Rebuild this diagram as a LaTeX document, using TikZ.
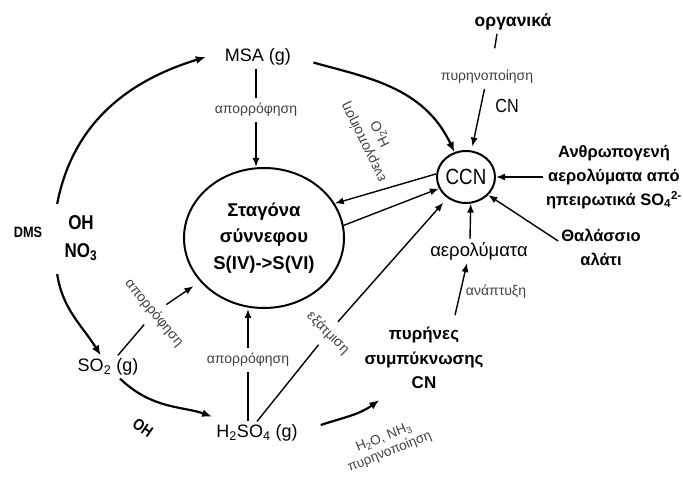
\documentclass[tikz,border=0pt]{standalone}
\usepackage{fontspec}
\setmainfont{Liberation Sans}
\newfontfamily\condfont{Liberation Sans}[FakeStretch=0.85]
\usetikzlibrary{arrows.meta,shapes.geometric}

\tikzset{
  lbl/.style={font=\fontsize{18}{22}\selectfont, inner sep=3pt},
  clbl/.style={font=\condfont\fontsize{19}{22}\selectfont, inner sep=3pt},
  blbl/.style={font=\bfseries\fontsize{16.5}{24}\selectfont, align=center, inner sep=3pt},
  small/.style={font=\fontsize{14}{16}\selectfont, text=black!75, inner sep=5pt},
  ln/.style={line width=1.4pt},
  arr/.style={line width=1.4pt, -{Latex[length=9pt,width=7pt]}},
  cyc/.style={line width=2.2pt, -{Latex[length=10pt,width=8pt]}},
  blob/.style={draw, ellipse, line width=2pt, inner sep=0pt},
}

\begin{document}
\begin{tikzpicture}[x=1pt,y=1pt]
  \useasboundingbox (0,0) rectangle (683,479);
  % gas phase
  \node[lbl] (msa) at (258,422) {MSA (g)};
  \node[lbl] (so2) at (108,112) {SO\textsubscript{2} (g)};
  \node[lbl] (h2so4) at (257,46) {H\textsubscript{2}SO\textsubscript{4} (g)};
  \node[font=\condfont\bfseries\fontsize{15}{17}\selectfont] (dms) at (28,247) {DMS};
  \node[font=\condfont\bfseries\fontsize{20}{28}\selectfont, align=center] (ohno) at (81,241) {OH\\NO\textsubscript{3}};
  \node[font=\condfont\bfseries\fontsize{16}{18}\selectfont, rotate=-35] (ohb) at (143,51) {OH};
  % droplet and CCN
  \node[blob, minimum width=160pt, minimum height=140pt,
        font=\bfseries\fontsize{18.5}{26.5}\selectfont, align=center] (drop) at (264,241)
        {Σταγόνα\\σύννεφου\\S(IV)->S(VI)};
  \node[blob, minimum width=58pt, minimum height=52pt,
        font=\condfont\fontsize{22}{24}\selectfont] (ccn) at (466,302) {CCN};
  % sources
  \node[font=\bfseries\fontsize{17.5}{20}\selectfont] (org) at (513,457) {οργανικά};
  \node[small] (nuc1) at (487,402) {πυρηνοποίηση};
  \node[clbl] (cn) at (507,373) {CN};
  \node[blbl] (anth) at (614,302) {Ανθρωπογενή\\αερολύματα από\\ηπειρωτικά SO\textsubscript{4}\textsuperscript{2-}};
  \node[blbl] (sea) at (601,232) {Θαλάσσιο\\αλάτι};
  \node[lbl, font=\fontsize{18.5}{22}\selectfont] (aer) at (479,228) {αερολύματα};
  \node[small, inner sep=2pt] (grow) at (496,187) {ανάπτυξη};
  \node[blbl, font=\bfseries\fontsize{17}{24.5}\selectfont] (pyr) at (424,121) {πυρήνες\\συμπύκνωσης\\CN};
  % process labels
  \node[small] (abs1) at (256,369) {απορρόφηση};
  \node[small, rotate=-50, inner sep=8pt] (abs2) at (154,166) {απορρόφηση};
  \node[small] (abs3) at (248,119) {απορρόφηση};
  \node[small, rotate=-45, inner sep=8pt] (evap) at (328,146) {εξάτμιση};
  \node[small, rotate=116, align=center, inner sep=2pt, font=\fontsize{14}{19}\selectfont] (act) at (372,341) {ενεργοποίηση\\H\textsubscript{2}O};
  \node[small, rotate=22, align=center, inner sep=2pt, font=\fontsize{13.5}{15.5}\selectfont] (nuc2) at (387,34) {H\textsubscript{2}O, NH\textsubscript{3}\\πυρηνοποίηση};

  % sulfur cycle
  \draw[cyc] ([shift={(-4pt,8pt)}]ohno.north west) to[out=79, in=197] ([xshift=-16pt]msa.west);
  \draw[cyc, shorten <=20pt] (msa.east) to[out=-16, in=115] (ccn);
  \draw[cyc] ([shift={(-4pt,-10pt)}]ohno.south west) to[out=279, in=122] (so2);
  \draw[cyc, shorten >=14pt] (so2) to[out=316, in=160] (h2so4);
  \draw[cyc] ([shift={(20pt,8pt)}]h2so4.east) to[out=18, in=216] ([shift={(18pt,-8pt)}]pyr.south west);
  % uptake
  \draw[ln] (msa.south -| abs1) -- (abs1.north);
  \draw[arr] (abs1.south) -- (abs1 |- drop.north);
  \draw[ln] (so2) -- (abs2);
  \draw[arr, shorten >=8pt] (abs2) -- (drop);
  \draw[ln] (h2so4.north -| abs3) -- (abs3.south);
  \draw[arr] (abs3.north) -- (abs3 |- drop.south);
  \draw[ln] (h2so4.north) -- (evap);
  \draw[arr, shorten >=6pt] (evap) -- (ccn);
  % droplet and CCN exchange
  \draw[arr] (ccn.174) -- (drop.26);
  \draw[arr] (drop.9) -- (ccn.203);
  % CCN sources
  \draw[ln, shorten >=17pt] ([xshift=-16pt]org.south) -- ([xshift=5pt]nuc1.north);
  \draw[arr, shorten >=4pt] (nuc1) -- (ccn);
  \draw[arr] (anth) -- (ccn);
  \draw[arr] ([yshift=6pt]sea.west) -- (ccn.-39);
  \draw[arr] ([xshift=-9pt]aer.north) -- (ccn.-80);
  \draw[arr, shorten <=9pt] ([xshift=29pt]pyr.north) -- ([xshift=-12pt]aer.south);
\end{tikzpicture}
\end{document}
